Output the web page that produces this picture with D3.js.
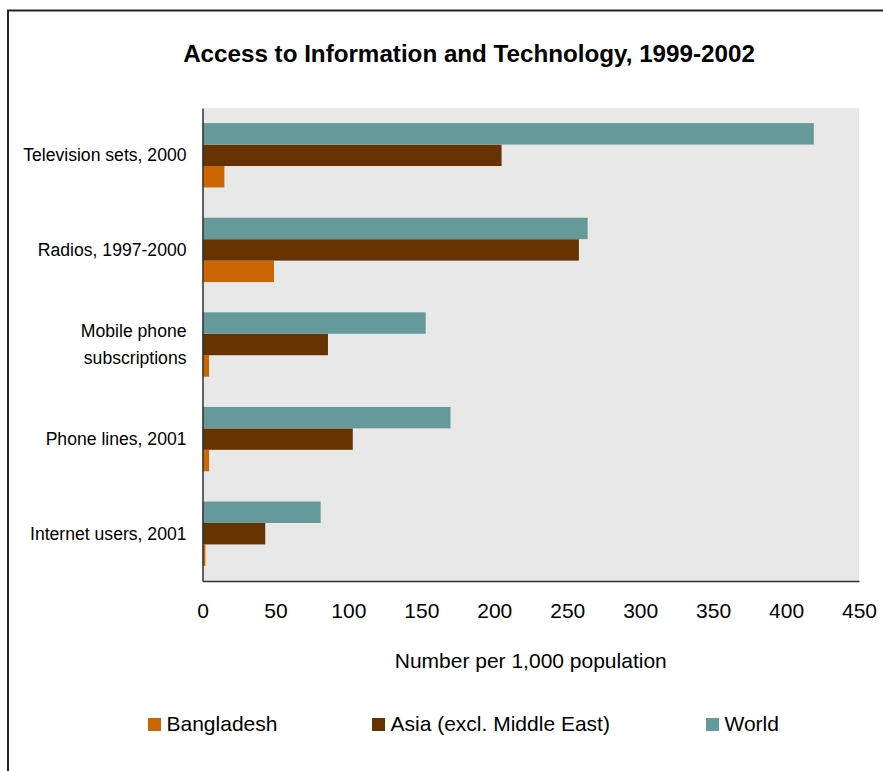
<!DOCTYPE html>
<html>
<head>
<meta charset="utf-8">
<script src="https://cdn.jsdelivr.net/npm/d3@7"></script>
<style>
  body { margin: 0; background: #fff; }
  text { font-family: "Liberation Sans", Arial, sans-serif; fill: #000; }
</style>
</head>
<body>
<div id="chart"></div>
<script>
// Data
const categories = ["Television sets, 2000", "Radios, 1997-2000", "Mobile phone subscriptions", "Phone lines, 2001", "Internet users, 2001"];
const categoryLines = [["Television sets, 2000"], ["Radios, 1997-2000"], ["Mobile phone", "subscriptions"], ["Phone lines, 2001"], ["Internet users, 2001"]];
const seriesNames = ["Bangladesh", "Asia (excl. Middle East)", "World"];
const bangladesh = [15, 49, 4.5, 4.5, 2];
const asia = [205, 258, 86, 103, 43];
const world = [419, 264, 153, 170, 81];
const xTicks = [0, 50, 100, 150, 200, 250, 300, 350, 400, 450];

const colors = {"Bangladesh": "#CC6600", "Asia (excl. Middle East)": "#663300", "World": "#669999"};

const W = 883, H = 771;
const margin = {top: 108, left: 202.5, right: 24, bottom: 190};
const width = 859 - margin.left,
      height = 581 - margin.top;

const svg = d3.select("#chart").append("svg")
    .attr("width", W)
    .attr("height", H);

// outer frame (runs off right / bottom edge like the reference)
svg.append("rect")
    .attr("x", 8).attr("y", 10.5)
    .attr("width", 900).attr("height", 800)
    .attr("fill", "none")
    .attr("stroke", "#222")
    .attr("stroke-width", 2);

// title
svg.append("text")
    .attr("x", 469)
    .attr("y", 62)
    .attr("text-anchor", "middle")
    .style("font-weight", "bold")
    .style("font-size", "24.2px")
    .text("Access to Information and Technology, 1999-2002");

const g = svg.append("g")
    .attr("transform", "translate(" + margin.left + "," + margin.top + ")");

g.append("rect")
    .attr("width", width)
    .attr("height", height)
    .attr("fill", "#E8E8E8");

// scales
const xScale = d3.scaleLinear().domain([0, 450]).range([0, width]);
const yScale = d3.scaleBand().domain(categories).range([0, height])
    .paddingInner(0.32).paddingOuter(0.16);
// World on top, then Asia, then Bangladesh
const subScale = d3.scaleBand().domain(["World", "Asia (excl. Middle East)", "Bangladesh"])
    .range([0, yScale.bandwidth()]);

const table = categories.map((c, i) => ({
  category: c,
  values: [
    {series: "Bangladesh", value: bangladesh[i]},
    {series: "Asia (excl. Middle East)", value: asia[i]},
    {series: "World", value: world[i]}
  ]
}));

const groups = g.selectAll(".group")
    .data(table)
    .enter().append("g")
    .attr("class", "group")
    .attr("transform", d => "translate(0," + yScale(d.category) + ")");

groups.selectAll("rect")
    .data(d => d.values)
    .enter().append("rect")
    .attr("x", xScale(0))
    .attr("y", d => subScale(d.series))
    .attr("width", d => xScale(d.value))
    .attr("height", subScale.bandwidth())
    .attr("fill", d => colors[d.series]);

// category labels
const catLabels = g.selectAll(".cat")
    .data(categories)
    .enter().append("text")
    .attr("class", "cat")
    .attr("text-anchor", "end")
    .style("font-size", "17.6px")
    .attr("transform", d => "translate(-16," + (yScale(d) + yScale.bandwidth() / 2) + ")");

catLabels.each(function(d, i) {
  const lines = categoryLines[i];
  const el = d3.select(this);
  lines.forEach((ln, j) => {
    el.append("tspan")
      .attr("x", 0)
      .attr("y", (j - (lines.length - 1) / 2) * 27)
      .attr("dy", "0.35em")
      .text(ln);
  });
});

// x axis
const xAxis = g.append("g")
    .attr("transform", "translate(0," + height + ")")
    .call(d3.axisBottom(xScale).tickValues(xTicks).tickSize(0).tickPadding(22));
xAxis.select(".domain").attr("stroke", "#333").attr("stroke-width", 1.5);
xAxis.selectAll("text")
    .style("font-size", "21px")
    .style("font-family", "'Liberation Sans', Arial, sans-serif");

// y axis line
const yAxis = g.append("g")
    .call(d3.axisLeft(yScale).tickSize(0).tickFormat(""));
yAxis.select(".domain").attr("stroke", "#333").attr("stroke-width", 1.5);

// x axis title
g.append("text")
    .attr("x", width / 2)
    .attr("y", height + 87)
    .attr("text-anchor", "middle")
    .style("font-size", "21px")
    .text("Number per 1,000 population");

// legend
const legendX = [148, 372, 706];
const legend = svg.selectAll(".legend")
    .data(seriesNames)
    .enter().append("g")
    .attr("class", "legend")
    .attr("transform", (d, i) => "translate(" + legendX[i] + ",718)");

legend.append("rect")
    .attr("width", 13)
    .attr("height", 13)
    .attr("fill", d => colors[d]);

legend.append("text")
    .attr("x", 18.5)
    .attr("y", 13)
    .style("font-size", "21px")
    .text(d => d);
</script>
</body>
</html>
